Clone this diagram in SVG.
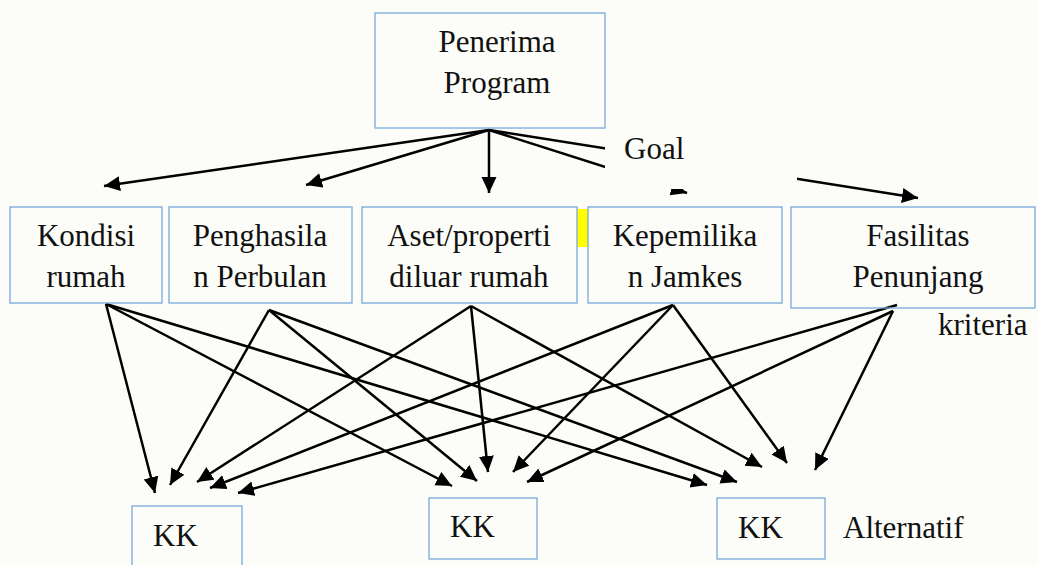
<svg xmlns="http://www.w3.org/2000/svg" width="1038" height="565" viewBox="0 0 1038 565">
  <defs>
    <marker id="ah" markerUnits="userSpaceOnUse" markerWidth="18" markerHeight="16" refX="16" refY="7.5" orient="auto">
      <path d="M0,0 L16,7.5 L0,15 z" fill="#000"/>
    </marker>
    <style>
      .box { fill: none; stroke: #79a9dc; stroke-width: 1.3; }
      .ln { stroke: #000; stroke-width: 2.5; fill: none; marker-end: url(#ah); }
    </style>
  </defs>

  <rect x="0" y="0" width="1038" height="565" fill="#fcfdf8"/>

  <!-- highlight mark between the third and fourth criteria -->
  <rect x="577" y="209" width="11" height="38" fill="#ffff00"/>

  <!-- connectors -->
  <g id="connectors">
    <line class="ln" x1="489" y1="130" x2="104" y2="186"/>
    <line class="ln" x1="489" y1="130" x2="306" y2="185"/>
    <line class="ln" x1="489" y1="130" x2="489" y2="193"/>
    <line class="ln" x1="489" y1="130" x2="687" y2="193"/>
    <line class="ln" x1="489" y1="130" x2="918" y2="198"/>

    <line class="ln" x1="106" y1="304" x2="155" y2="493"/>
    <line class="ln" x1="106" y1="304" x2="452" y2="486"/>
    <line class="ln" x1="106" y1="304" x2="707" y2="485"/>

    <line class="ln" x1="269" y1="310" x2="170" y2="485"/>
    <line class="ln" x1="269" y1="310" x2="477" y2="481"/>
    <line class="ln" x1="269" y1="310" x2="737" y2="482"/>

    <line class="ln" x1="471" y1="306" x2="197" y2="482"/>
    <line class="ln" x1="471" y1="306" x2="488" y2="472"/>
    <line class="ln" x1="471" y1="306" x2="762" y2="467"/>

    <line class="ln" x1="673" y1="305" x2="210" y2="488"/>
    <line class="ln" x1="673" y1="305" x2="513" y2="472"/>
    <line class="ln" x1="673" y1="305" x2="787" y2="463"/>

    <line class="ln" x1="897" y1="305" x2="238" y2="493"/>
    <line class="ln" x1="893" y1="311" x2="527" y2="482"/>
    <line class="ln" x1="893" y1="311" x2="815" y2="470"/>
  </g>

  <g font-family="Liberation Serif, Tinos, Times New Roman, DejaVu Serif, serif" font-size="31" fill="#111">
    <!-- goal -->
    <g id="goal" text-anchor="middle">
      <rect class="box" x="375" y="13" width="230" height="115"/>
      <text x="497" y="52">Penerima</text>
      <text x="497" y="93">Program</text>
    </g>

    <!-- criteria -->
    <g id="kondisi" text-anchor="middle">
      <rect class="box" x="10" y="207" width="152" height="96"/>
      <text x="86" y="246">Kondisi</text>
      <text x="86" y="287">rumah</text>
    </g>
    <g id="penghasilan" text-anchor="middle">
      <rect class="box" x="169" y="207" width="183" height="96"/>
      <text x="260" y="246">Penghasila</text>
      <text x="260" y="287">n Perbulan</text>
    </g>
    <g id="aset" text-anchor="middle">
      <rect class="box" x="362" y="207" width="215" height="96"/>
      <text x="469" y="246">Aset/properti</text>
      <text x="469" y="287">diluar rumah</text>
    </g>
    <g id="jamkes" text-anchor="middle">
      <rect class="box" x="588" y="207" width="194" height="96"/>
      <text x="685" y="246">Kepemilika</text>
      <text x="685" y="287">n Jamkes</text>
    </g>
    <g id="fasilitas" text-anchor="middle">
      <rect class="box" x="791" y="207" width="244" height="101"/>
      <text x="918" y="246">Fasilitas</text>
      <text x="918" y="287">Penunjang</text>
    </g>

    <!-- alternatives -->
    <g id="kk1">
      <rect class="box" x="132" y="506" width="110" height="70"/>
      <text x="153" y="546">KK</text>
    </g>
    <g id="kk2">
      <rect class="box" x="429" y="498" width="108" height="61"/>
      <text x="450" y="537">KK</text>
    </g>
    <g id="kk3">
      <rect class="box" x="717" y="498" width="108" height="61"/>
      <text x="738" y="538">KK</text>
    </g>

    <!-- level labels; the goal label sits on an opaque text frame -->
    <g id="label-goal">
      <rect x="605" y="134" width="192" height="55" fill="#fcfdf8"/>
      <text x="624" y="159">Goal</text>
    </g>
    <g id="label-kriteria">
      <text x="938" y="335">kriteria</text>
    </g>
    <g id="label-alternatif">
      <text x="843" y="538">Alternatif</text>
    </g>
  </g>
</svg>
